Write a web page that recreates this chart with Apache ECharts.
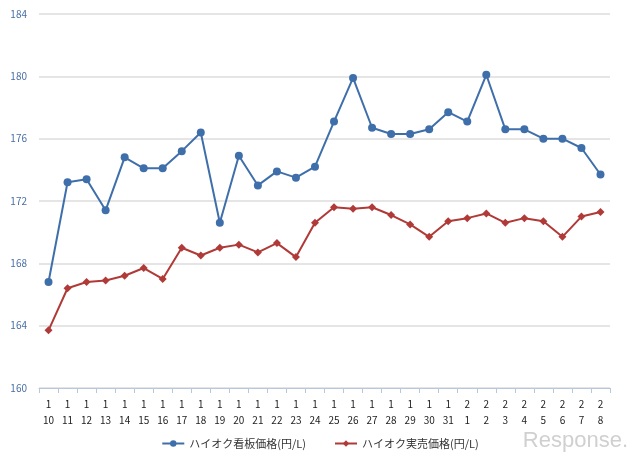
<!DOCTYPE html>
<html>
<head>
<meta charset="utf-8">
<script src="https://cdn.jsdelivr.net/npm/echarts@6/dist/echarts.min.js"></script>
<style>html,body{margin:0;padding:0;background:#fff}#chart{width:640px;height:466px}</style>
</head>
<body>
<div id="chart"></div>
<script>
const days = ['1\n10','1\n11','1\n12','1\n13','1\n14','1\n15','1\n16','1\n17','1\n18','1\n19','1\n20','1\n21','1\n22','1\n23','1\n24','1\n25','1\n26','1\n27','1\n28','1\n29','1\n30','1\n31','2\n1','2\n2','2\n3','2\n4','2\n5','2\n6','2\n7','2\n8']
const kanban = [166.8,173.2,173.4,171.4,174.8,174.1,174.1,175.2,176.4,170.6,174.9,173.0,173.9,173.5,174.2,177.1,179.9,176.7,176.3,176.3,176.6,177.7,177.1,180.1,176.6,176.6,176.0,176.0,175.4,173.7]
const jitsubai = [163.7,166.4,166.8,166.9,167.2,167.7,167.0,169.0,168.5,169.0,169.2,168.7,169.3,168.4,170.6,171.6,171.5,171.6,171.1,170.5,169.7,170.7,170.9,171.2,170.6,170.9,170.7,169.7,171.0,171.3]

let myChart = echarts.init(document.getElementById('chart'))

myChart.setOption({
    animation: false,
    textStyle: { fontFamily: 'Noto Sans CJK JP' },
    grid: { left: 39, right: 30, top: 14, bottom: 78 },
    legend: {
        bottom: 12,
        left: 'center',
        itemWidth: 22,
        itemHeight: 8,
        itemGap: 28,
        textStyle: { fontSize: 11, color: '#333' },
        data: ['ハイオク看板価格(円/L)', 'ハイオク実売価格(円/L)']
    },
    graphic: [{
        type: 'text',
        right: 12,
        bottom: 14,
        style: { text: 'Response.', fontSize: 22, fill: '#d0d0d0', fontFamily: 'Liberation Sans' }
    }],
    xAxis: {
        type: 'category',
        boundaryGap: true,
        data: days,
        axisLine: { lineStyle: { color: '#b8c8dc' } },
        axisTick: { show: true, lineStyle: { color: '#b8c8dc' } },
        axisLabel: { fontSize: 10, color: '#222', interval: 0, lineHeight: 16 }
    },
    yAxis: {
        type: 'value',
        min: 160,
        max: 184,
        interval: 4,
        axisLabel: { fontSize: 10, color: '#4a6fa5', margin: 12 },
        splitLine: { lineStyle: { color: '#dcdcdc', width: 1.5 } },
        axisLine: { show: false },
        axisTick: { show: false }
    },
    series: [
        {
            name: 'ハイオク看板価格(円/L)',
            type: 'line',
            data: kanban,
            symbol: 'circle',
            symbolSize: 8,
            itemStyle: { color: '#3f6faa' },
            lineStyle: { color: '#3f6faa', width: 2 }
        },
        {
            name: 'ハイオク実売価格(円/L)',
            type: 'line',
            data: jitsubai,
            symbol: 'diamond',
            symbolSize: 8,
            itemStyle: { color: '#b03a37' },
            lineStyle: { color: '#b03a37', width: 2 }
        }
    ]
})
</script>
</body>
</html>
